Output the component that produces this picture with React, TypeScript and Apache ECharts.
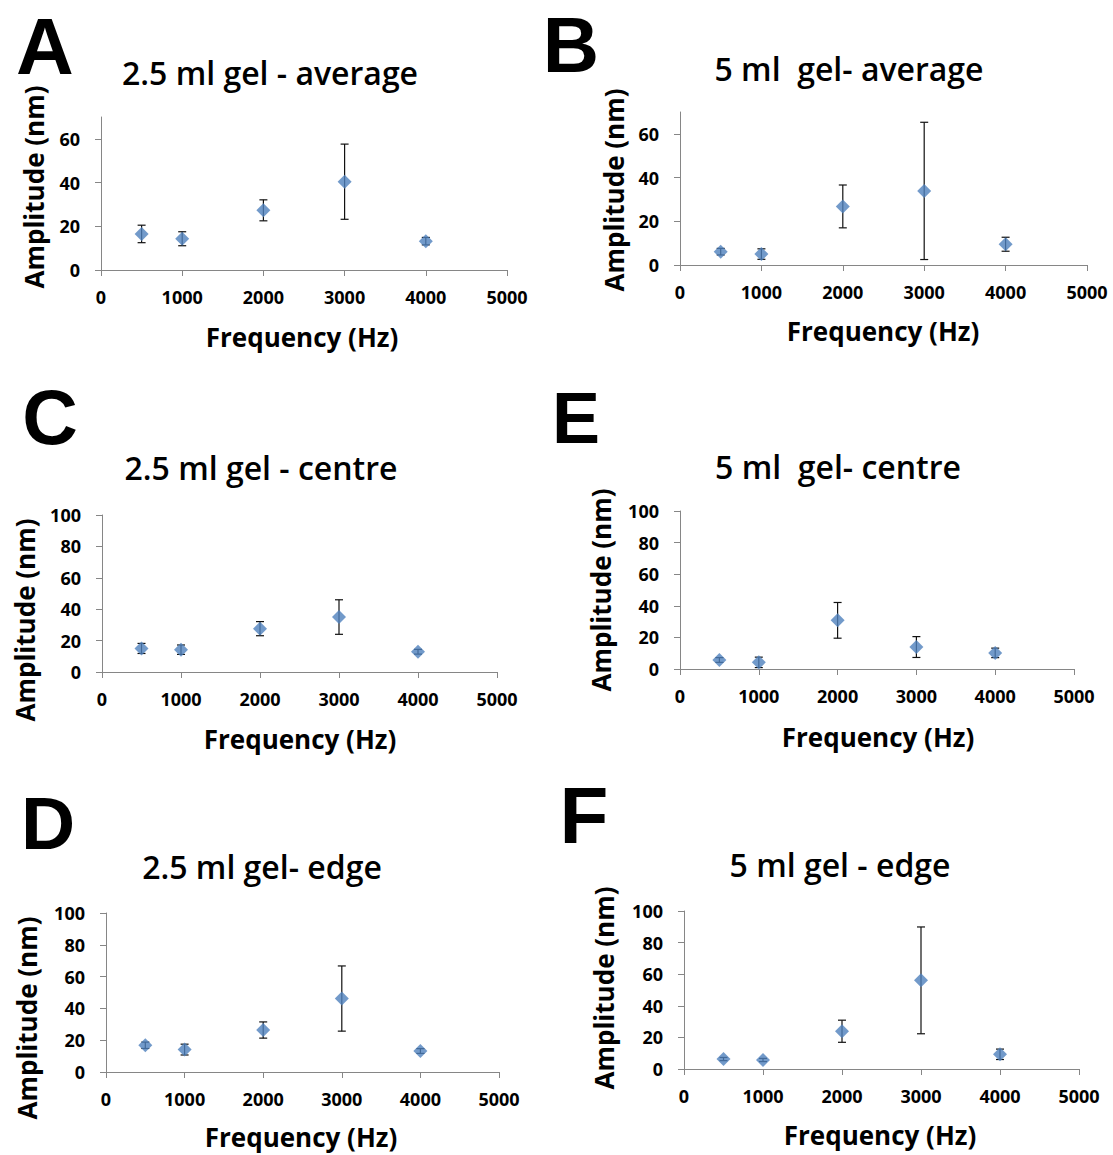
import React, { useEffect, useRef } from "react";
import * as echarts from "echarts";

// ---- Data ----
const frequencies = [500, 1000, 2000, 3000, 4000];

const avg25 = [16.5, 14.3, 27.3, 40.4, 13.2];
const avg25Err = [4.0, 3.2, 4.8, 17.2, 1.7];

const avg5 = [6.1, 5.0, 26.8, 33.9, 9.5];
const avg5Err = [1.5, 2.4, 9.8, 31.4, 3.2];

const centre25 = [15.0, 14.2, 27.6, 35.0, 12.9];
const centre25Err = [3.2, 3.0, 4.5, 11.0, 1.5];

const centre5 = [5.7, 4.2, 30.8, 13.9, 10.2];
const centre5Err = [1.5, 3.3, 11.3, 6.6, 3.0];

const edge25 = [16.8, 14.1, 26.4, 46.2, 13.2];
const edge25Err = [2.0, 3.4, 5.1, 20.5, 1.5];

const edge5 = [6.3, 5.7, 23.9, 56.1, 9.3];
const edge5Err = [1.0, 1.0, 7.0, 33.8, 3.3];

const yTicks70 = [0, 20, 40, 60];
const yTicks100 = [0, 20, 40, 60, 80, 100];

const titles = [
  "2.5 ml gel - average",
  "5 ml  gel- average",
  "2.5 ml gel - centre",
  "5 ml  gel- centre",
  "2.5 ml gel- edge",
  "5 ml gel - edge",
];
const letters = ["A", "B", "C", "E", "D", "F"];
const xName = "Frequency (Hz)";
const yName = "Amplitude (nm)";

// ---- Layout (positions/styles) ----
const panels = [
  { vals: avg25, errs: avg25Err, max: 70, ticks: yTicks70,
    grid: { left: 101, top: 117, width: 406, height: 153 },
    title: [270, 72], letter: [45, 46, 80], yn: [34, 187], xn: [302, 337] },
  { vals: avg5, errs: avg5Err, max: 70, ticks: yTicks70,
    grid: { left: 680, top: 112, width: 407, height: 153 },
    title: [849, 68], letter: [571, 45, 78], yn: [614, 190], xn: [883, 331] },
  { vals: centre25, errs: centre25Err, max: 100, ticks: yTicks100,
    grid: { left: 102, top: 515, width: 395, height: 157 },
    title: [261, 467], letter: [50, 417, 77], yn: [25, 620], xn: [300, 739] },
  { vals: centre5, errs: centre5Err, max: 100, ticks: yTicks100,
    grid: { left: 680, top: 511, width: 394, height: 158 },
    title: [838, 466], letter: [576, 418, 72], yn: [601, 590], xn: [878, 737] },
  { vals: edge25, errs: edge25Err, max: 100, ticks: yTicks100,
    grid: { left: 106, top: 913, width: 393, height: 159 },
    title: [262, 866], letter: [48, 823, 75], yn: [27, 1018], xn: [301, 1137] },
  { vals: edge5, errs: edge5Err, max: 100, ticks: yTicks100,
    grid: { left: 684, top: 911, width: 395, height: 158 },
    title: [840, 864], letter: [584, 815, 80], yn: [604, 988], xn: [880, 1135] },
];

const FONT = "'Open Sans', Lato, sans-serif";
const AXIS_COLOR = "#868686";
const MARKER = "#4F81BD";

function buildOption() {
  const grid: any[] = [];
  const xAxis: any[] = [];
  const yAxis: any[] = [];
  const series: any[] = [];
  const graphic: any[] = [];

  panels.forEach((p, i) => {
    grid.push({ ...p.grid, containLabel: false });
    xAxis.push({
      type: "value",
      gridIndex: i,
      min: 0,
      max: 5000,
      interval: 1000,
      axisLine: { show: true, onZero: false, lineStyle: { color: AXIS_COLOR, width: 1 } },
      axisTick: { show: true, inside: false, length: 6, lineStyle: { color: AXIS_COLOR } },
      splitLine: { show: false },
      axisLabel: {
        color: "#000", fontFamily: FONT, fontWeight: "bold", fontSize: 18, margin: 18,
        formatter: (v: number) => String(v),
      },
    });
    yAxis.push({
      type: "value",
      gridIndex: i,
      min: 0,
      max: p.max,
      interval: 20,
      axisLine: { show: true, lineStyle: { color: AXIS_COLOR, width: 1 } },
      axisTick: { show: true, inside: false, length: 6, lineStyle: { color: AXIS_COLOR }, customValues: p.ticks },
      splitLine: { show: false },
      axisLabel: {
        color: "#000", fontFamily: FONT, fontWeight: "bold", fontSize: 18, margin: 21,
        customValues: p.ticks, formatter: (v: number) => String(v),
      },
    });
    series.push({
      type: "custom",
      xAxisIndex: i,
      yAxisIndex: i,
      z: 2,
      encode: { x: 0, y: 1 },
      data: frequencies.map((f, k) => [f, p.vals[k], p.errs[k]]),
      renderItem: (params: any, api: any) => {
        const x = api.value(0);
        const y = api.value(1);
        const e = api.value(2);
        const top = api.coord([x, y + e]);
        const bot = api.coord([x, y - e]);
        const hw = 4;
        const st = { stroke: "#111", lineWidth: 1.2 };
        return {
          type: "group",
          children: [
            { type: "line", shape: { x1: top[0], y1: top[1], x2: bot[0], y2: bot[1] }, style: st },
            { type: "line", shape: { x1: top[0] - hw, y1: top[1], x2: top[0] + hw, y2: top[1] }, style: st },
            { type: "line", shape: { x1: bot[0] - hw, y1: bot[1], x2: bot[0] + hw, y2: bot[1] }, style: st },
          ],
        };
      },
    });
    series.push({
      type: "scatter",
      xAxisIndex: i,
      yAxisIndex: i,
      z: 3,
      symbol: "diamond",
      symbolSize: 14,
      itemStyle: { color: MARKER },
      data: frequencies.map((f, k) => [f, p.vals[k]]),
    });

    graphic.push({
      type: "text",
      x: p.title[0],
      y: p.title[1],
      style: {
        text: titles[i],
        fill: "#000",
        font: `600 32px ${FONT}`,
        textAlign: "center",
        textVerticalAlign: "middle",
      },
    });
    graphic.push({
      type: "text",
      x: p.letter[0],
      y: p.letter[1],
      style: {
        text: letters[i],
        fill: "#000",
        font: `bold ${p.letter[2]}px Arial, 'Liberation Sans', sans-serif`,
        lineHeight: Math.round(p.letter[2] * 0.75),
        textAlign: "center",
        textVerticalAlign: "middle",
      },
    });
    graphic.push({
      type: "text",
      x: p.xn[0],
      y: p.xn[1],
      style: {
        text: xName,
        fill: "#000",
        font: `bold 26px ${FONT}`,
        textAlign: "center",
        textVerticalAlign: "middle",
      },
    });
    graphic.push({
      type: "text",
      x: p.yn[0],
      y: p.yn[1],
      rotation: Math.PI / 2,
      style: {
        text: yName,
        fill: "#000",
        font: `bold 26px ${FONT}`,
        textAlign: "center",
        textVerticalAlign: "middle",
      },
    });
  });

  return {
    animation: false,
    backgroundColor: "#fff",
    grid,
    xAxis,
    yAxis,
    series,
    graphic,
  };
}

export default function App() {
  const ref = useRef<HTMLDivElement>(null);
  useEffect(() => {
    if (!ref.current) return;
    const chart = echarts.init(ref.current, undefined, { renderer: "svg" });
    chart.setOption(buildOption());
    return () => chart.dispose();
  }, []);
  return (
    <div
      ref={ref}
      style={{ position: "absolute", left: 0, top: 0, width: 1113, height: 1155, background: "#fff" }}
    />
  );
}
